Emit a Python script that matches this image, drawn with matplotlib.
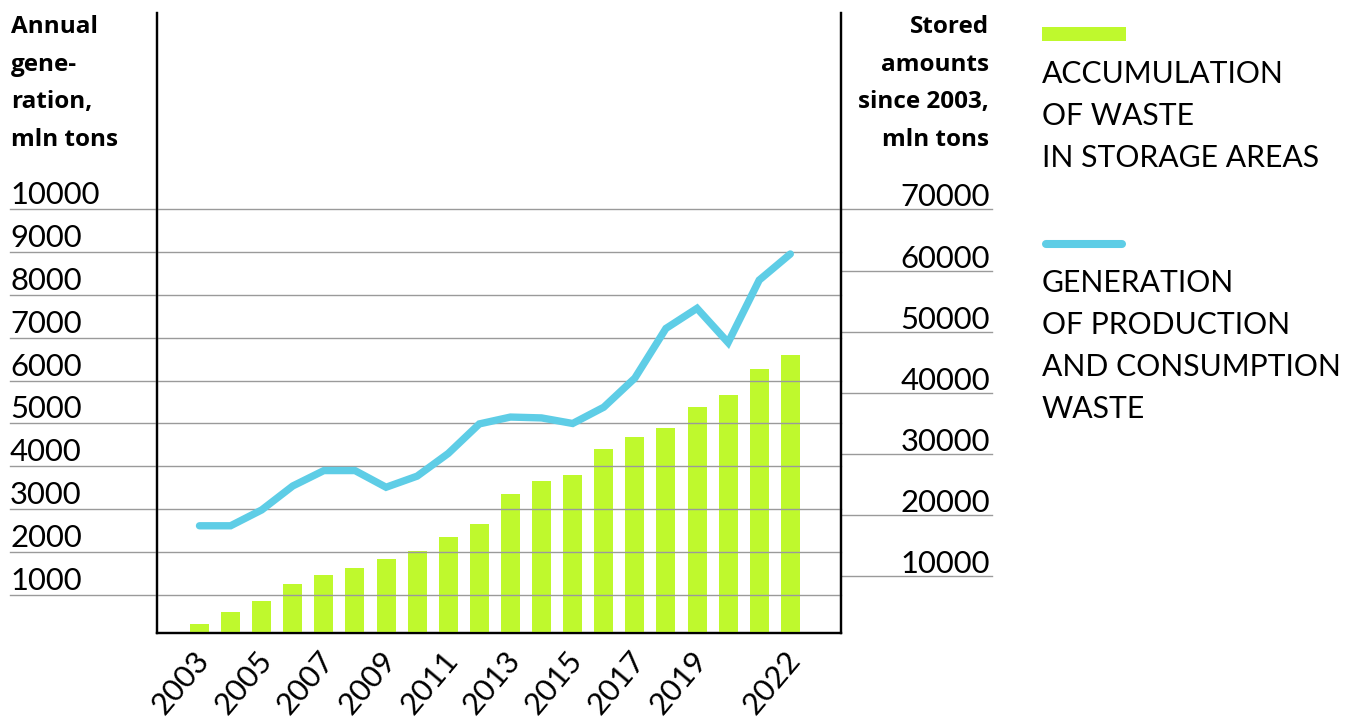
import matplotlib
matplotlib.use("Agg")
import matplotlib.pyplot as plt
import matplotlib.transforms as mtransforms
from matplotlib.patches import Rectangle
from matplotlib.lines import Line2D

# ---- data ----
years = list(range(2003, 2023))
# annual generation of production and consumption waste, mln tons (left axis)
generation = [2610, 2610, 2980, 3540, 3900, 3900, 3510, 3770, 4300, 4990,
              5150, 5130, 5000, 5380, 6060, 7220, 7690, 6890, 8350, 8960]
# waste accumulated in storage areas since 2003, mln tons (right axis)
stored = [2190, 4250, 6000, 8770, 10250, 11440, 12860, 14170, 16400, 18580,
          23480, 25600, 26630, 30880, 32790, 34210, 37750, 39710, 43910, 46190]
year_ticks = [2003, 2005, 2007, 2009, 2011, 2013, 2015, 2017, 2019, 2022]
left_ticks = [1000, 2000, 3000, 4000, 5000, 6000, 7000, 8000, 9000, 10000]
right_ticks = [10000, 20000, 30000, 40000, 50000, 60000, 70000]

GREEN = "#bff92d"
BLUE = "#5ecde6"
GRID = "#9a9a9a"
FONT = "Lato"
BOLD_FONT = "Open Sans"

W, H = 1360, 724
fig = plt.figure(figsize=(W / 100, H / 100), dpi=100)
plt.rcParams["font.family"] = [FONT, "DejaVu Sans"]


def fx(x):
    return x / W


def fy(y):
    return 1 - y / H


# plot box in pixels
L, R, T, B = 156.7, 841.0, 13.0, 633.3
ax = fig.add_axes([fx(L), fy(B), fx(R) - fx(L), fy(T) - fy(B)])
ax2 = ax.twinx()

xpos = list(range(len(years)))
ax.set_xlim(-1.376, 20.63)
ax.set_ylim(686, 102130)        # stored amounts scale
ax2.set_ylim(98, 14590)         # annual generation scale

ax.bar(xpos, stored, width=0.61, color=GREEN, linewidth=0, zorder=3)
ax2.plot(xpos, generation, color=BLUE, lw=5.3, solid_capstyle="round",
         solid_joinstyle="miter", zorder=5)

for a in (ax, ax2):
    a.tick_params(left=False, right=False, labelleft=False, labelright=False)
    a.spines["top"].set_visible(False)
    for s in ("left", "right", "bottom"):
        a.spines[s].set_linewidth(1.6)
        a.spines[s].set_color("black")
ax.set_zorder(1)
ax2.set_zorder(2)
ax.patch.set_visible(False)
ax2.patch.set_visible(False)

TICK_FS = 22.3

# horizontal rules for the left scale, running under the left labels
tl = mtransforms.blended_transform_factory(ax2.transAxes, ax2.transData)
x_left = (10 - L) / (R - L)
for v in left_ticks:
    ax2.plot([x_left, 1], [v, v], transform=tl, color=GRID, lw=1.0,
             clip_on=False, zorder=0)
    ax2.text(x_left, v, str(v), transform=mtransforms.offset_copy(
        tl, fig=fig, x=0, y=5, units="dots"),
        ha="left", va="baseline", fontsize=TICK_FS, color="black")

# rules for the right scale, outside the plot box
tr = mtransforms.blended_transform_factory(ax.transAxes, ax.transData)
x_right = (992 - L) / (R - L)
x_rlab = (990 - L) / (R - L)
for v in right_ticks:
    ax.plot([1, x_right], [v, v], transform=tr, color=GRID, lw=1.0,
            clip_on=False, zorder=0)
    ax.text(x_rlab, v, str(v), transform=mtransforms.offset_copy(
        tr, fig=fig, x=0, y=3, units="dots"),
        ha="right", va="baseline", fontsize=TICK_FS, color="black")

# year labels
ax.set_xticks([years.index(y) for y in year_ticks])
ax.set_xticklabels([str(y) for y in year_ticks], rotation=50, ha="right",
                   va="top", rotation_mode="anchor", fontsize=TICK_FS)
ax.tick_params(axis="x", length=0, pad=9)
shift = mtransforms.ScaledTranslation(-6 / 100, 0, fig.dpi_scale_trans)
for lab in ax.get_xticklabels():
    lab.set_transform(lab.get_transform() + shift)

# axis titles
left_title = ["Annual", "gene-", "ration,", "mln tons"]
right_title = ["Stored", "amounts", "since 2003,", "mln tons"]
baselines = [33, 70.7, 108.4, 146]
for s, yb in zip(left_title, baselines):
    fig.text(fx(11), fy(yb), s, ha="left", va="baseline", fontsize=17.5,
             fontweight="bold", family=[BOLD_FONT, "DejaVu Sans"])
for s, yb in zip(right_title, baselines):
    fig.text(fx(989), fy(yb), s, ha="right", va="baseline", fontsize=17.5,
             fontweight="bold", family=[BOLD_FONT, "DejaVu Sans"])

# legend
fig.patches.append(Rectangle((fx(1042), fy(41)), fx(1126) - fx(1042),
                             fy(27) - fy(41), transform=fig.transFigure,
                             color=GREEN, linewidth=0))
fig.lines.append(Line2D([fx(1046), fx(1122)], [fy(244), fy(244)],
                        transform=fig.transFigure, color=BLUE, lw=5.8,
                        solid_capstyle="round"))
legend1 = ["ACCUMULATION", "OF WASTE", "IN STORAGE AREAS"]
legend2 = ["GENERATION", "OF PRODUCTION", "AND CONSUMPTION", "WASTE"]
for s, yb in zip(legend1, [83, 125, 167]):
    fig.text(fx(1042), fy(yb), s, ha="left", va="baseline", fontsize=21.7)
for s, yb in zip(legend2, [291.7, 333.5, 376, 418.3]):
    fig.text(fx(1042), fy(yb), s, ha="left", va="baseline", fontsize=21.7)

fig.savefig("out.png", dpi=100, facecolor="white")
